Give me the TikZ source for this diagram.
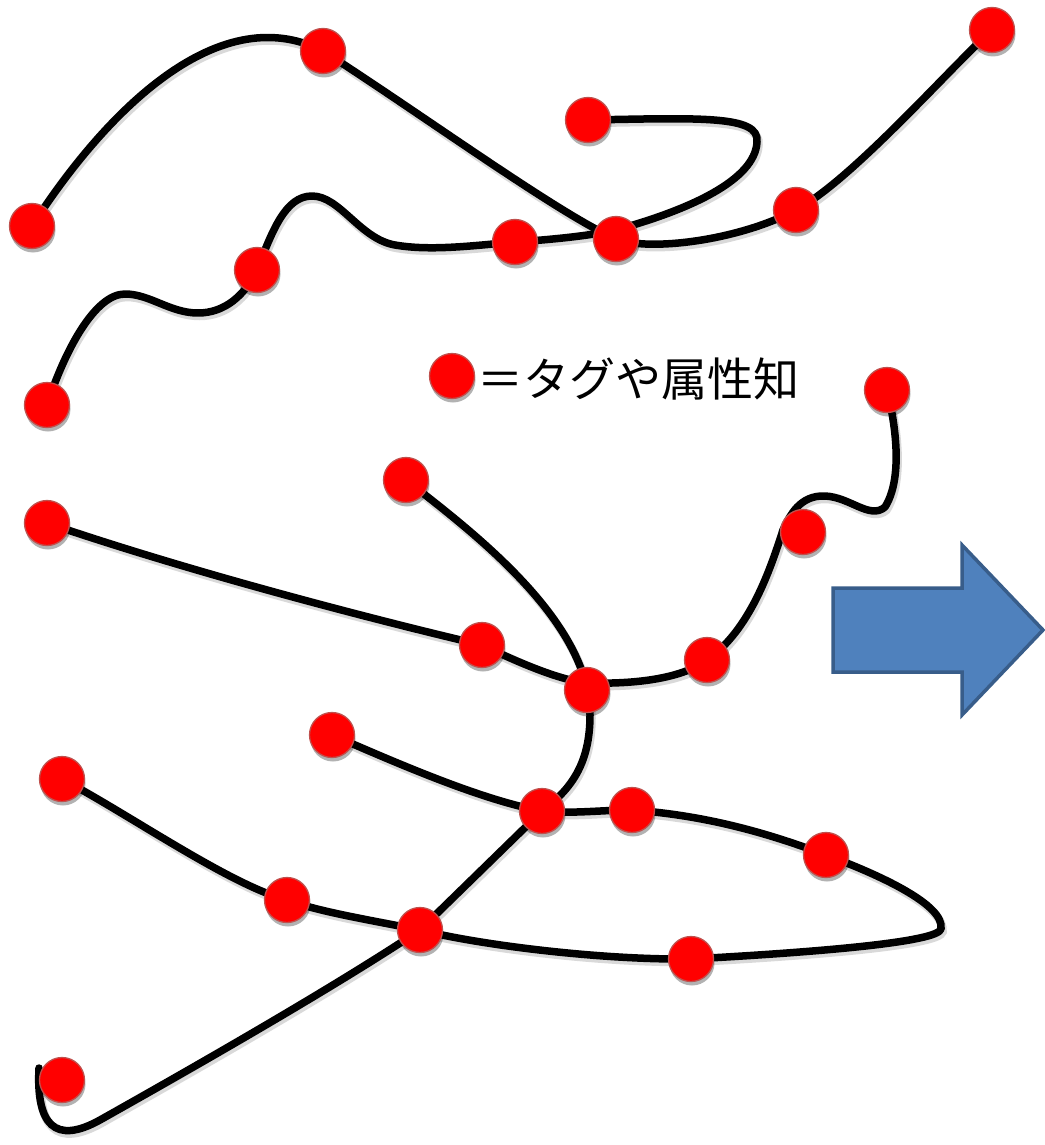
\documentclass[tikz,border=0pt]{standalone}
\usepackage{fontspec}
\newfontfamily\jpfont{Noto Sans CJK JP}
\usetikzlibrary{shadows}
\definecolor{dotred}{HTML}{FF0000}
\definecolor{dotedge}{HTML}{C0504D}
\definecolor{arrowfill}{HTML}{4F81BD}
\definecolor{arrowedge}{HTML}{385D8A}
\tikzset{
  curve/.style={line width=7.5pt, line cap=round, line join=round,
    preaction={draw=black, opacity=0.15, line width=8.5pt,
      transform canvas={xshift=1.5pt,yshift=-3pt}}},
  tagdot/.style={circle, fill=dotred, draw=dotedge, line width=1.3pt,
    minimum size=45pt, inner sep=0pt,
    drop shadow={shadow xshift=1pt, shadow yshift=-4pt, opacity=0.3, fill=black}},
  bigarrow/.style={fill=arrowfill, draw=arrowedge, line width=3.5pt, line join=miter},
  legendtext/.style={font=\jpfont\fontsize{46pt}{52pt}\selectfont, anchor=west, inner sep=0pt}
}
\begin{document}
\begin{tikzpicture}[x=1pt,y=-1pt]
\fill[white] (0,0) rectangle (1044,1145);
\useasboundingbox (0,0) rectangle (1044,1145);
% dot positions
\coordinate (p1) at (32,226);
\coordinate (p2) at (323,51);
\coordinate (p3) at (588,120);
\coordinate (p4) at (992,30);
\coordinate (p5) at (796,210);
\coordinate (p6) at (616,239);
\coordinate (p7) at (515,242);
\coordinate (p8) at (257,270);
\coordinate (p9) at (47,405);
\coordinate (pl) at (452,376);
\coordinate (p11) at (887,390);
\coordinate (p12) at (406,480);
\coordinate (p13) at (47,523);
\coordinate (p14) at (803,532);
\coordinate (p15) at (482,645);
\coordinate (p16) at (707,660);
\coordinate (p17) at (587,690);
\coordinate (p18) at (332,735);
\coordinate (p19) at (62,779);
\coordinate (p20) at (542,811);
\coordinate (p21) at (632,810);
\coordinate (p22) at (826,855);
\coordinate (p23) at (287,900);
\coordinate (p24) at (420,930);
\coordinate (p25) at (691,959);
\coordinate (p26) at (62,1080);
% free turning points of the curves
\coordinate (bturn) at (757,142);
\coordinate (bcross) at (612,231);
\coordinate (cturn) at (885,507);
\coordinate (cdip) at (825,496);
\coordinate (dend) at (39,1068);
\coordinate (eturn) at (941,929);
% curve A
\draw[curve] (p1) .. controls (100,120) and (215,-4) .. (p2)
  .. controls (420,113) and (560,215) .. (p6)
  .. controls (650,252) and (740,240) .. (p5)
  .. controls (852,180) and (950,68) .. (p4);
% curve B
\draw[curve] (p3) .. controls (700,118) and (760,115) .. (bturn)
  .. controls (755,180) and (690,210) .. (bcross)
  .. controls (580,237) and (545,240) .. (p7)
  .. controls (470,246) and (430,251) .. (395,245)
  .. controls (360,239) and (340,196) .. (312,196)
  .. controls (285,196) and (272,232) .. (p8)
  .. controls (245,295) and (225,313) .. (198,313)
  .. controls (170,313) and (150,294) .. (125,294)
  .. controls (95,294) and (65,350) .. (p9);
% curve C
\draw[curve] (p11) .. controls (897,430) and (902,480) .. (cturn)
  .. controls (870,520) and (850,497) .. (cdip)
  .. controls (800,495) and (790,515) .. (783,530)
  .. controls (770,570) and (750,630) .. (p16)
  .. controls (680,680) and (630,684) .. (590,683)
  .. controls (560,682) and (505,656) .. (p15)
  .. controls (430,633) and (220,582) .. (p13);
% curve D
\draw[curve] (p12) .. controls (470,530) and (590,620) .. (590,715)
  .. controls (590,765) and (570,790) .. (p20)
  .. controls (500,852) and (460,891) .. (p24)
  .. controls (330,990) and (180,1075) .. (100,1120)
  .. controls (55,1145) and (36,1125) .. (dend);
% curve E
\draw[curve] (p18) .. controls (390,760) and (480,800) .. (p20)
  .. controls (575,814) and (600,810) .. (p21)
  .. controls (700,815) and (760,830) .. (p22)
  .. controls (880,875) and (945,905) .. (eturn)
  .. controls (938,942) and (820,952) .. (p25)
  .. controls (600,960) and (480,945) .. (p24)
  .. controls (370,920) and (320,912) .. (p23)
  .. controls (230,885) and (130,815) .. (p19);
% dots
\foreach \i in {1,2,3,4,5,6,7,8,9,11,12,13,14,15,16,17,18,19,20,21,22,23,24,25,26}
  \node[tagdot] (d\i) at (p\i) {};
\node[tagdot] (dl) at (pl) {};
\node[legendtext] (legend) at (477,379) {＝タグや属性知};
% arrow
\draw[bigarrow] (833,588) -- (962,588) -- (962,545) -- (1043,630) -- (962,715) -- (962,672) -- (833,672) -- cycle;
\end{tikzpicture}
\end{document}
